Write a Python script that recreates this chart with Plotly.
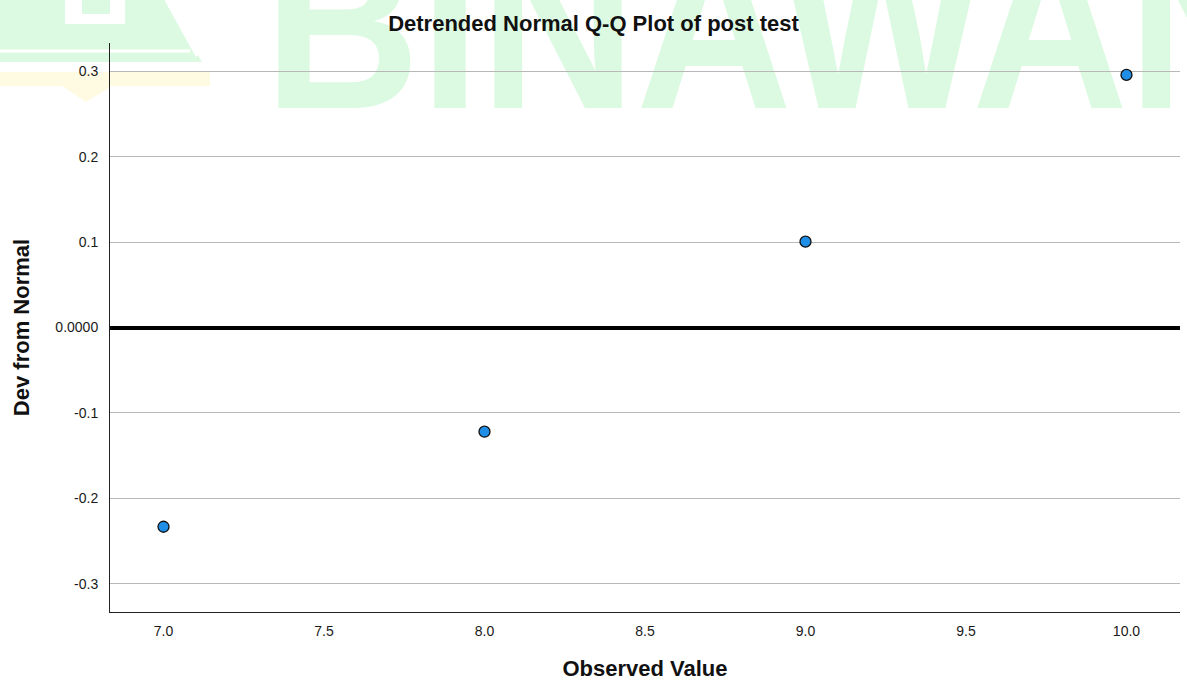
import base64
import plotly.graph_objects as go

# ---- data ----
observed_value = [7.0, 8.0, 9.0, 10.0]
dev_from_normal = [-0.2333, -0.1220, 0.1005, 0.2957]

x_tick_vals = [7.0, 7.5, 8.0, 8.5, 9.0, 9.5, 10.0]
x_tick_text = ["7.0", "7.5", "8.0", "8.5", "9.0", "9.5", "10.0"]
y_tick_vals = [-0.3, -0.2, -0.1, 0.0, 0.1, 0.2, 0.3]
y_tick_text = ["-0.3", "-0.2", "-0.1", "0.0000", "0.1", "0.2", "0.3"]

W, H = 1187, 681
ML, MR, MT, MB = 110, 7, 43, 69
PW, PH = W - ML - MR, H - MT - MB

# ---- faint watermark (background logo) ----
wm_svg = f"""<svg xmlns='http://www.w3.org/2000/svg' width='{W}' height='{H}' viewBox='0 0 {W} {H}'>
<polygon points='0,0 165,0 202,62 0,62' fill='#dcfae1'/>
<polyline points='0,51 190,51' stroke='white' stroke-width='3' fill='none'/>
<polyline points='165,-2 197,56' stroke='white' stroke-width='3' fill='none'/>
<path d='M65,0 L65,24 L125,24 L125,0' fill='white'/>
<rect x='82' y='0' width='28' height='14' fill='#dcfae1'/>
<polygon points='0,72 210,72 210,86 112,86 86,102 62,86 0,86' fill='#fffbe3'/>
<text x='264' y='108' font-family='Liberation Sans, Arial, sans-serif' font-weight='bold'
 font-size='240' textLength='1020' lengthAdjust='spacingAndGlyphs' fill='#dcfae1'>BINAWAN</text>
</svg>"""
wm_uri = "data:image/svg+xml;base64," + base64.b64encode(wm_svg.encode()).decode()

fig = go.Figure()
fig.add_trace(go.Scatter(
    x=observed_value, y=dev_from_normal, mode="markers",
    marker=dict(size=11, color="#1f8ee6", line=dict(color="#111111", width=1.3)),
    showlegend=False, hoverinfo="x+y",
))

fig.update_layout(
    width=W, height=H,
    margin=dict(l=ML, r=MR, t=MT, b=MB, pad=0, autoexpand=False),
    paper_bgcolor="white", plot_bgcolor="white",
    title=dict(text="<b>Detrended Normal Q-Q Plot of post test</b>",
               x=0.5, xref="container", xanchor="center",
               y=1 - 23 / H, yanchor="middle", yref="container", automargin=False,
               font=dict(family="Liberation Sans, Arial, sans-serif", size=22, color="#111111")),
    images=[dict(source=wm_uri, xref="paper", yref="paper",
                 x=-ML / PW, y=1 + MT / PH, sizex=W / PW, sizey=H / PH,
                 xanchor="left", yanchor="top", sizing="stretch", layer="below", opacity=1)],
    font=dict(family="Liberation Sans, Arial, sans-serif", color="#222222"),
)

fig.update_xaxes(
    range=[6.8333, 10.1667], tickvals=x_tick_vals, ticktext=x_tick_text,
    showgrid=False, zeroline=False, showline=True, linecolor="#222222", linewidth=1,
    ticks="", ticklabelstandoff=6, tickfont=dict(size=14, color="#1a1a1a"),
    automargin=False,
    title=dict(text="<b>Observed Value</b>", standoff=22,
               font=dict(size=22, color="#111111")),
)
fig.update_yaxes(
    range=[-0.3331, 0.3331], tickvals=y_tick_vals, ticktext=y_tick_text,
    showgrid=True, gridcolor="#b8b8b8", gridwidth=1,
    zeroline=True, zerolinecolor="#000000", zerolinewidth=4,
    showline=True, linecolor="#222222", linewidth=1,
    ticks="", ticklabelstandoff=8, tickfont=dict(size=14, color="#1a1a1a"),
    automargin=False,
    title=dict(text="<b>Dev from Normal</b>", standoff=19,
               font=dict(size=22, color="#111111")),
)

fig.write_html("out.html", config={"displayModeBar": False},
               post_script="document.body.style.margin='0';document.body.style.overflow='hidden';")
